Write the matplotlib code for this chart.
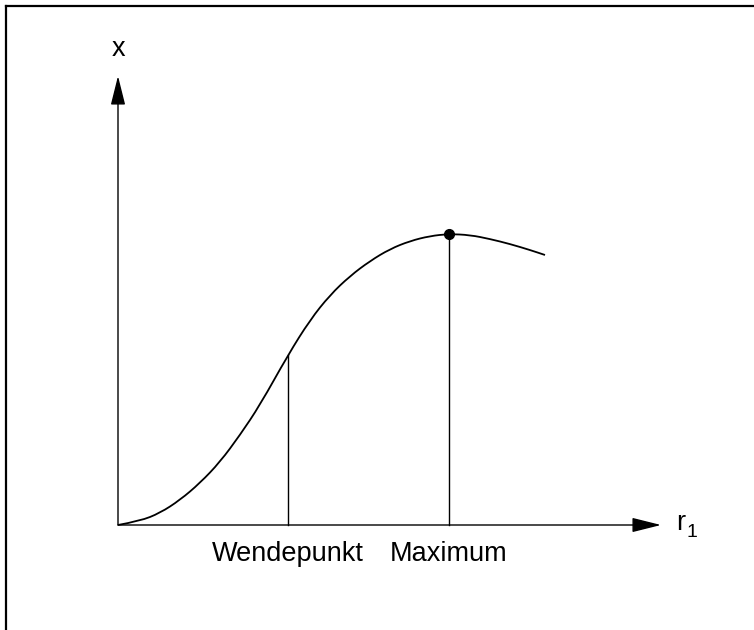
import matplotlib
matplotlib.use('Agg')
import matplotlib.pyplot as plt
from matplotlib.lines import Line2D
from matplotlib.path import Path
from matplotlib.patches import PathPatch

plt.rcParams['font.family'] = ['Liberation Sans', 'DejaVu Sans']

# curve (r_1 to the right, x upwards)
r_vals = [0, 22, 42, 62, 82, 102, 122, 142, 170, 192, 212, 232, 252, 272, 292, 312, 331, 352, 372, 392, 412, 427]
x_vals = [0, 4, 12, 25, 42, 63, 90, 120, 170, 205, 230, 249, 264, 276, 284, 289, 291, 290, 286, 281, 275, 270]

# marked points
wende_r, wende_x = 170, 170
max_r, max_x = 331, 291

x_label = 'x'
r_label = 'r'
r_sub = '1'
point_labels = ['Wendepunkt', 'Maximum']

fig = plt.figure(figsize=(7.54, 6.3), dpi=100)
ax = fig.add_axes([0, 0, 1, 1])
ax.set_xlim(-118, 636)
ax.set_ylim(-105, 525)
ax.axis('off')

# frame round the figure
fig.add_artist(Line2D([0.0085, 0.0085], [0, 0.99], transform=fig.transFigure, color='black', lw=1.6))
fig.add_artist(Line2D([0.0085, 1.0], [0.99, 0.99], transform=fig.transFigure, color='black', lw=1.6))

# axes with arrows
arrow = dict(arrowstyle='-|>,head_length=1.0,head_width=0.25', color='black', lw=1.0,
             shrinkA=0, shrinkB=0, mutation_scale=18)
ax.annotate('', xy=(0, 449), xytext=(0, 0), arrowprops=arrow)
ax.annotate('', xy=(543, 0), xytext=(0, 0), arrowprops=arrow)

ax.text(0.5, 469, x_label, fontsize=19.5, ha='center', va='baseline')
ax.text(558, -5, r_label, fontsize=19.5, ha='left', va='baseline')
ax.text(568, -12, r_sub, fontsize=14, ha='left', va='baseline')

# smooth curve through the read points (quadratic pieces between midpoints)
pts = list(zip(r_vals, x_vals))
verts = [pts[0]]
codes = [Path.MOVETO]
for i in range(1, len(pts) - 1):
    mid = ((pts[i][0] + pts[i + 1][0]) / 2, (pts[i][1] + pts[i + 1][1]) / 2)
    verts += [pts[i], mid]
    codes += [Path.CURVE3, Path.CURVE3]
verts.append(pts[-1])
codes.append(Path.LINETO)
ax.add_patch(PathPatch(Path(verts, codes), facecolor='none', edgecolor='black', lw=1.3))

ax.plot([wende_r, wende_r], [0, wende_x], color='black', lw=1.0)
ax.plot([max_r, max_r], [0, max_x], color='black', lw=1.0)
ax.plot([max_r], [max_x], 'o', color='black', markersize=7)

ax.text(wende_r, -36, point_labels[0], fontsize=19.5, ha='center', va='baseline')
ax.text(max_r, -36, point_labels[1], fontsize=19.5, ha='center', va='baseline')

fig.savefig('out.png', dpi=100)
